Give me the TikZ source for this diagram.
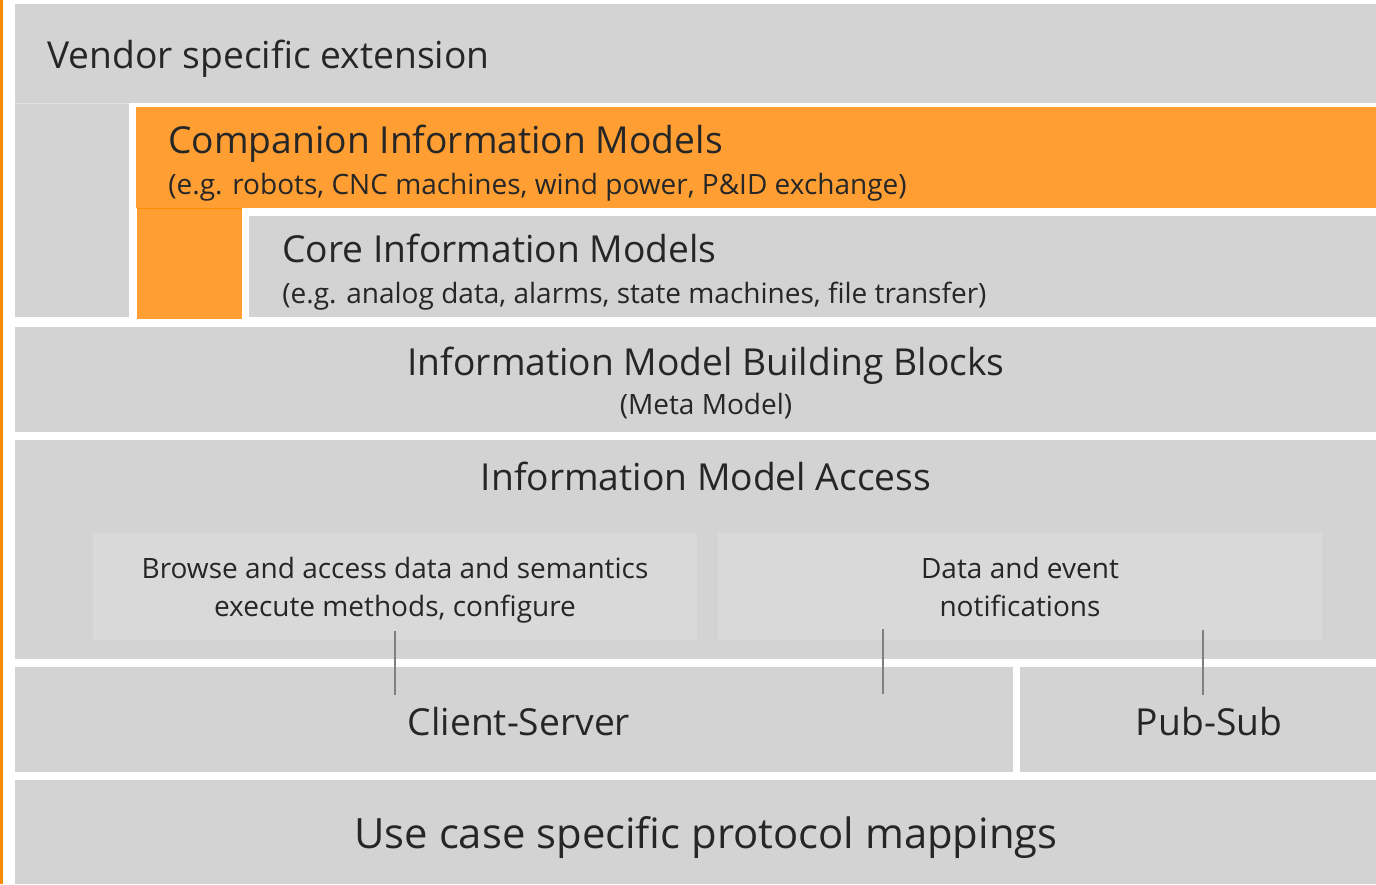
\documentclass[tikz,border=0pt]{standalone}
\usepackage{fontspec}
\setmainfont{Open Sans}

\definecolor{layergray}{HTML}{D3D3D3}
\definecolor{subgray}{HTML}{D9D9D9}
\definecolor{compOrange}{HTML}{FF9F33}
\definecolor{edgeOrange}{HTML}{FF8C00}
\definecolor{txtgray}{HTML}{262626}
\definecolor{linkgray}{HTML}{808080}

\tikzset{
  layertitle/.style={text=txtgray, inner sep=0pt, font=\fontsize{18.6}{22}\selectfont},
  bigtitle/.style={text=txtgray, inner sep=0pt, font=\fontsize{20.9}{25}\selectfont},
  layernote/.style={text=txtgray, inner sep=0pt, font=\fontsize{14}{17}\selectfont},
  link/.style={draw=linkgray, line width=0.75pt}
}

\begin{document}
\begin{tikzpicture}[x=0.5pt, y=-0.5pt]
    \useasboundingbox (0,0) rectangle (1376,884);

    % Rand links
    \fill[edgeOrange] (0,0) rectangle (3,884);

    % Schichten
    \fill[layergray] (15,4) rectangle (1376,103);
    \fill[layergray] (15,103) rectangle (129,317);
    \draw[black!12, line width=0.5pt] (15,103) -- (129,103);
    \fill[compOrange] (136,107) rectangle (1376,208);
    \fill[compOrange] (137,208) rectangle (242,319);
    \draw[edgeOrange, line width=0.5pt] (137,208) -- (242,208);
    \fill[layergray] (249,216) rectangle (1376,317);
    \fill[layergray] (15,327) rectangle (1376,432);
    \fill[layergray] (15,440) rectangle (1376,659);
    \fill[subgray] (93,533) rectangle (697,640);
    \fill[subgray] (718,533) rectangle (1322,640);
    \fill[layergray] (15,667) rectangle (1013,772);
    \fill[layergray] (1020,667) rectangle (1376,772);
    \fill[layergray] (15,780) rectangle (1376,884);

    % Texte
    \node[layertitle, anchor=base west] (vendor) at (47,68) {Vendor specific extension};
    \node[layertitle, anchor=base west] (comp) at (168,153) {Companion Information Models};
    \node[layernote, anchor=base west] (compnote) at (168,194) {(e.g. robots, CNC machines, wind power, P\&ID exchange)};
    \node[layertitle, anchor=base west] (core) at (282,262) {Core Information Models};
    \node[layernote, anchor=base west] (corenote) at (282,303) {(e.g. analog data, alarms, state machines, file transfer)};
    \node[layertitle, anchor=base] (blocks) at (706,375) {Information Model Building Blocks};
    \node[layernote, anchor=base] (blocksnote) at (706,414) {(Meta Model)};
    \node[layertitle, anchor=base] (access) at (706,490) {Information Model Access};
    \node[layernote, anchor=base] (browse1) at (395,578) {Browse and access data and semantics};
    \node[layernote, anchor=base] (browse2) at (395,616) {execute methods, configure};
    \node[layernote, anchor=base] (events1) at (1020,578) {Data and event};
    \node[layernote, anchor=base] (events2) at (1020,616) {notifications};
    \node[layertitle, anchor=base] (cs) at (519,735) {Client-Server};
    \node[layertitle, anchor=base] (pubsub) at (1209,735) {Pub-Sub};
    \node[bigtitle, anchor=base] (mappings) at (706,848) {Use case specific protocol mappings};

    % Verbindungen
    \coordinate (browse-end) at (395,631);
    \coordinate (cs-end) at (395,695);
    \coordinate (events-end) at (883,629);
    \coordinate (cs-end2) at (883,694);
    \coordinate (events-end2) at (1203,630);
    \coordinate (pubsub-end) at (1203,695);
    \draw[link] (browse-end) -- (cs-end);
    \draw[link] (events-end) -- (cs-end2);
    \draw[link] (events-end2) -- (pubsub-end);
\end{tikzpicture}
\end{document}
